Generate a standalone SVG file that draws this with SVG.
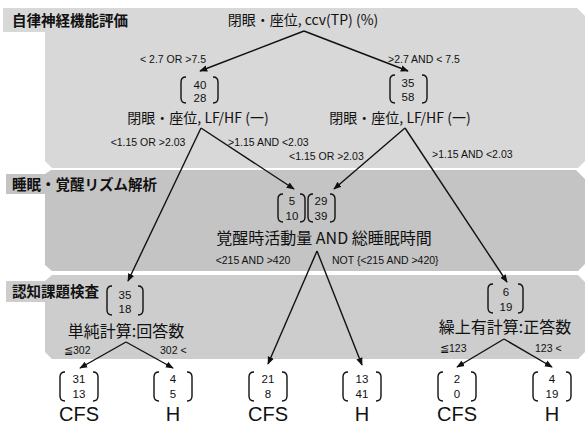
<svg xmlns="http://www.w3.org/2000/svg" width="586" height="427" viewBox="0 0 586 427">
<defs>
<marker id="ah" viewBox="0 0 10 10" refX="9" refY="5" markerWidth="8" markerHeight="8" markerUnits="userSpaceOnUse" orient="auto">
<path d="M0,1 L10,5 L0,9 Z" fill="#111"/>
</marker>
</defs>
<style>
.p1{fill:#d8d8d8}
.p2{fill:#c4c4c4}
.p3{fill:#cdcdcd}
.jp{font-family:"Noto Sans CJK JP","Liberation Sans",sans-serif;fill:#111}
.hd{font-size:14.5px;font-weight:bold}
.lb{font-size:14px;text-anchor:middle}
.cond{font-family:"Liberation Sans",Arial,sans-serif;font-size:10.5px;fill:#111}
.num{font-family:"Liberation Sans",Arial,sans-serif;font-size:11.5px;fill:#111;text-anchor:middle}
.cls{font-family:"Liberation Sans",Arial,sans-serif;font-size:20px;fill:#111;text-anchor:middle}
.br{fill:none;stroke:#111;stroke-width:1.4}
.ln{stroke:#111;stroke-width:1.4;fill:none}
</style>
<rect width="586" height="427" fill="#fff"/>
<g id="panels">
<path class="p1" d="M3,8 H577 L585,16 V161 L578,168 H52 L45,161 V32 H3 Z"/>
<path class="p2" d="M45,174 L51,170 H576 L585,179 V264 L578,271 H52 L45,265 V194 H6 V174 Z"/>
<path class="p3" d="M45,281 L52,275 H578 L585,282 V352 L578,359 H52 L45,352 V302 H6 V281 Z"/>
</g>
<g id="section-labels">
<text class="jp hd" x="12" y="26">自律神経機能評価</text>
<text class="jp hd" x="12" y="190">睡眠・覚醒リズム解析</text>
<text class="jp hd" x="12" y="297">認知課題検査</text>
</g>
<g id="connectors">
<line class="ln" x1="304" y1="31" x2="200" y2="71" marker-end="url(#ah)"/>
<line class="ln" x1="304" y1="31" x2="408" y2="71" marker-end="url(#ah)"/>
<line class="ln" x1="201" y1="128" x2="128" y2="281" marker-end="url(#ah)"/>
<line class="ln" x1="201" y1="128" x2="294" y2="189" marker-end="url(#ah)"/>
<line class="ln" x1="405" y1="128" x2="334" y2="189" marker-end="url(#ah)"/>
<line class="ln" x1="405" y1="128" x2="507" y2="282" marker-end="url(#ah)"/>
<line class="ln" x1="317" y1="251" x2="268" y2="364" marker-end="url(#ah)"/>
<line class="ln" x1="317" y1="251" x2="362" y2="365" marker-end="url(#ah)"/>
<line class="ln" x1="126" y1="342" x2="80" y2="368" marker-end="url(#ah)"/>
<line class="ln" x1="126" y1="342" x2="173" y2="368" marker-end="url(#ah)"/>
<line class="ln" x1="504" y1="339" x2="457" y2="367" marker-end="url(#ah)"/>
<line class="ln" x1="504" y1="339" x2="552" y2="367" marker-end="url(#ah)"/>
</g>
<g id="edge-labels">
<text class="cond" x="173" y="63" text-anchor="middle">&lt; 2.7 OR &gt;7.5</text>
<text class="cond" x="388" y="63">&gt;2.7 AND &lt; 7.5</text>
<text class="cond" x="148" y="146" text-anchor="middle">&lt;1.15 OR &gt;2.03</text>
<text class="cond" x="228" y="146">&gt;1.15 AND &lt;2.03</text>
<text class="cond" x="289" y="160">&lt;1.15 OR &gt;2.03</text>
<text class="cond" x="432" y="158">&gt;1.15 AND &lt;2.03</text>
<text class="cond" x="253" y="264" text-anchor="middle">&lt;215 AND &gt;420</text>
<text class="cond" x="332" y="264">NOT {&lt;215 AND &gt;420}</text>
<text class="cond" x="64" y="354">≦302</text>
<text class="cond" x="160" y="354">302 &lt;</text>
<text class="cond" x="440" y="352">≦123</text>
<text class="cond" x="535" y="352">123 &lt;</text>
</g>
<g id="root">
<text class="jp lb" x="303" y="25">閉眼・座位, ccv(TP) (%)</text>
</g>
<g id="n-left">
<path class="br" d="M186,77 Q181,77 181,82 V98 Q181,103 186,103"/>
<path class="br" d="M213,77 Q218,77 218,82 V98 Q218,103 213,103"/>
<text class="num" x="200" y="89">40</text>
<text class="num" x="200" y="102">28</text>
<text class="jp lb" x="198" y="123">閉眼・座位, LF/HF (一)</text>
</g>
<g id="n-right">
<path class="br" d="M395,75 Q390,75 390,80 V98 Q390,103 395,103"/>
<path class="br" d="M422,75 Q427,75 427,80 V98 Q427,103 422,103"/>
<text class="num" x="408" y="87">35</text>
<text class="num" x="408" y="101">58</text>
<text class="jp lb" x="400" y="123">閉眼・座位, LF/HF (一)</text>
</g>
<g id="n-mid">
<path class="br" d="M283,194 Q278,194 278,199 V217 Q278,222 283,222"/>
<path class="br" d="M300,194 Q305,194 305,199 V217 Q305,222 300,222"/>
<path class="br" d="M313,194 Q308,194 308,199 V217 Q308,222 313,222"/>
<path class="br" d="M330,194 Q335,194 335,199 V217 Q335,222 330,222"/>
<text class="num" x="292" y="205">5</text>
<text class="num" x="292" y="220">10</text>
<text class="num" x="321" y="205">29</text>
<text class="num" x="321" y="220">39</text>
<text class="jp" x="324" y="244" font-size="16" text-anchor="middle">覚醒時活動量 AND 総睡眠時間</text>
</g>
<g id="n-cog-left">
<path class="br" d="M112,286 Q107,286 107,291 V310 Q107,315 112,315"/>
<path class="br" d="M138,286 Q143,286 143,291 V310 Q143,315 138,315"/>
<text class="num" x="125" y="299">35</text>
<text class="num" x="125" y="313">18</text>
<text class="jp" x="126" y="337" font-size="16" text-anchor="middle">単純計算:回答数</text>
</g>
<g id="n-cog-right">
<path class="br" d="M493,284 Q488,284 488,289 V308 Q488,313 493,313"/>
<path class="br" d="M518,284 Q523,284 523,289 V308 Q523,313 518,313"/>
<text class="num" x="506" y="296">6</text>
<text class="num" x="506" y="311">19</text>
<text class="jp" x="505" y="333" font-size="16" text-anchor="middle">繰上有計算:正答数</text>
</g>
<g id="leaf1">
<path class="br" d="M65,372 Q60,372 60,377 V396 Q60,401 65,401"/>
<path class="br" d="M93,372 Q98,372 98,377 V396 Q98,401 93,401"/>
<text class="num" x="79" y="383">31</text>
<text class="num" x="79" y="398">13</text>
<text class="cls" x="79" y="421">CFS</text>
</g>
<g id="leaf2">
<path class="br" d="M159,372 Q154,372 154,377 V396 Q154,401 159,401"/>
<path class="br" d="M187,372 Q192,372 192,377 V396 Q192,401 187,401"/>
<text class="num" x="173" y="383">4</text>
<text class="num" x="173" y="398">5</text>
<text class="cls" x="173" y="421">H</text>
</g>
<g id="leaf3">
<path class="br" d="M254,372 Q249,372 249,377 V396 Q249,401 254,401"/>
<path class="br" d="M282,372 Q287,372 287,377 V396 Q287,401 282,401"/>
<text class="num" x="268" y="383">21</text>
<text class="num" x="268" y="398">8</text>
<text class="cls" x="268" y="421">CFS</text>
</g>
<g id="leaf4">
<path class="br" d="M348,372 Q343,372 343,377 V396 Q343,401 348,401"/>
<path class="br" d="M376,372 Q381,372 381,377 V396 Q381,401 376,401"/>
<text class="num" x="362" y="383">13</text>
<text class="num" x="362" y="398">41</text>
<text class="cls" x="362" y="421">H</text>
</g>
<g id="leaf5">
<path class="br" d="M443,372 Q438,372 438,377 V396 Q438,401 443,401"/>
<path class="br" d="M471,372 Q476,372 476,377 V396 Q476,401 471,401"/>
<text class="num" x="457" y="383">2</text>
<text class="num" x="457" y="398">0</text>
<text class="cls" x="457" y="421">CFS</text>
</g>
<g id="leaf6">
<path class="br" d="M538,372 Q533,372 533,377 V396 Q533,401 538,401"/>
<path class="br" d="M566,372 Q571,372 571,377 V396 Q571,401 566,401"/>
<text class="num" x="552" y="383">4</text>
<text class="num" x="552" y="398">19</text>
<text class="cls" x="552" y="421">H</text>
</g>
</svg>
